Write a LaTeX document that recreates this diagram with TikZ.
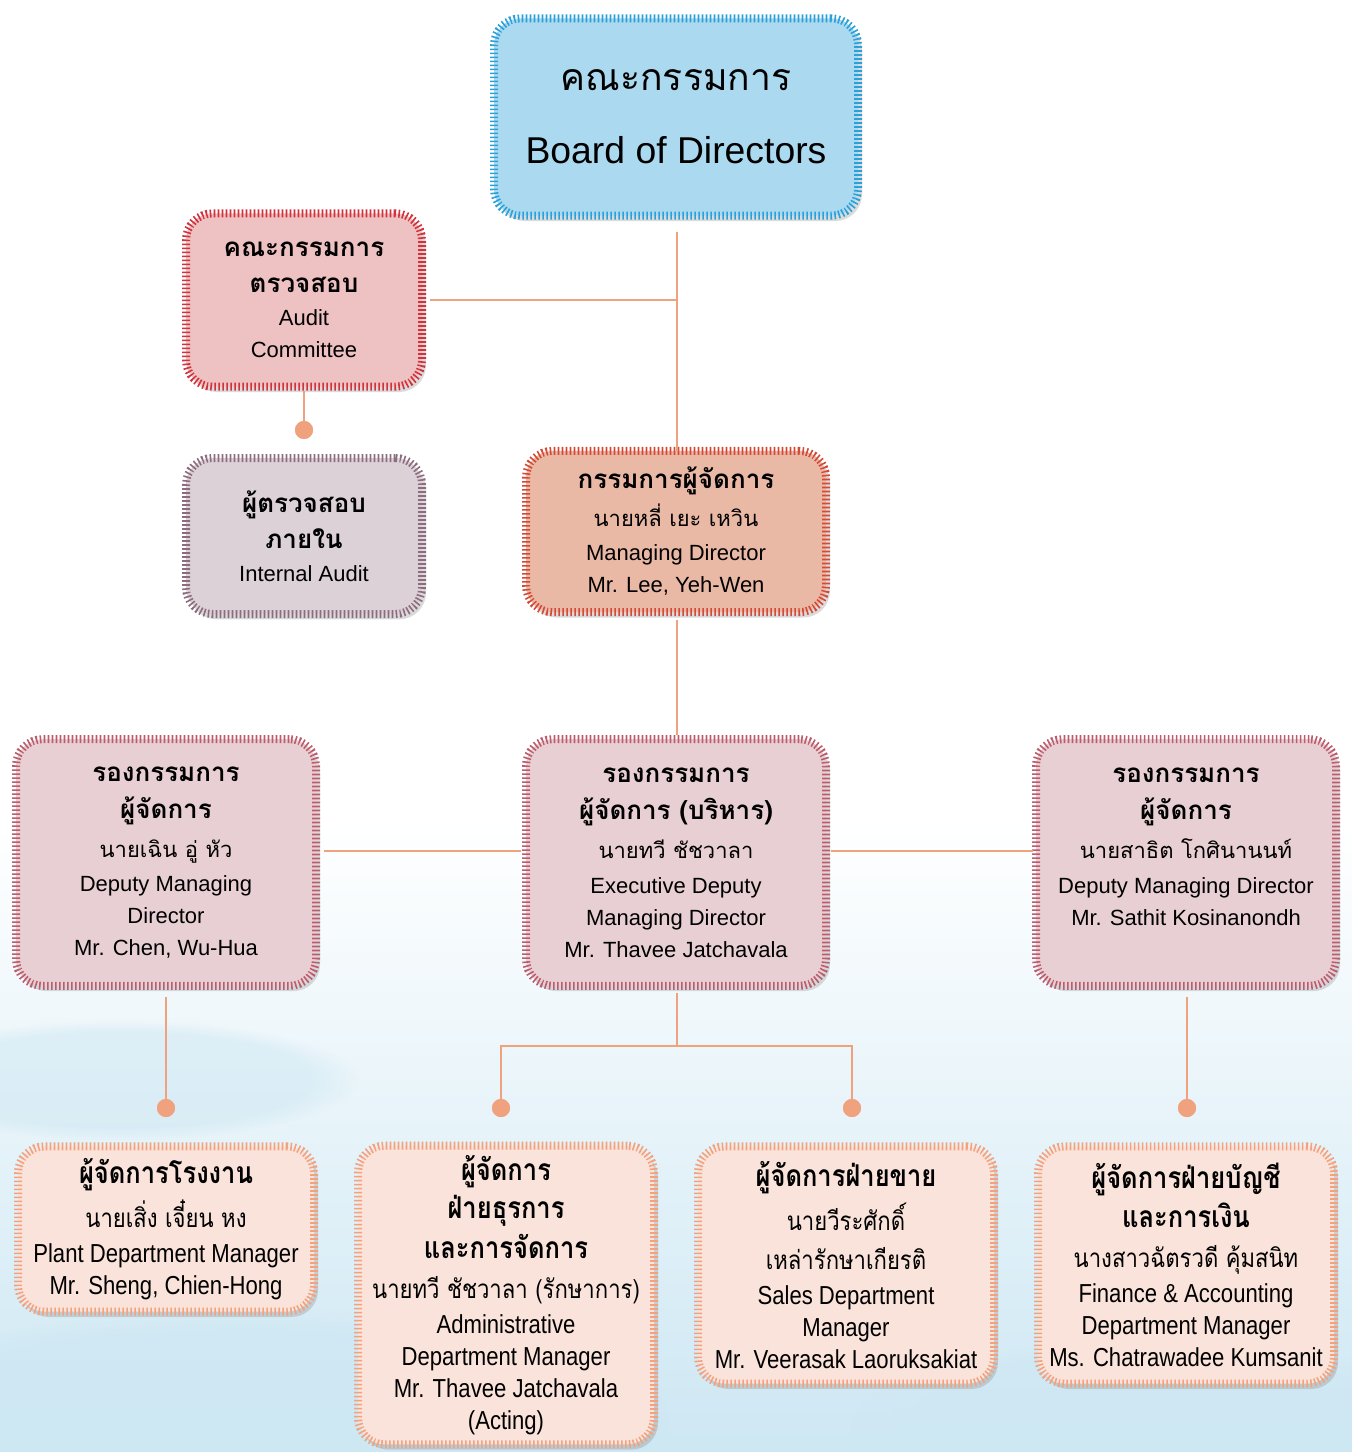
\documentclass[tikz,border=0pt]{standalone}
\usepackage{fontspec}
\setmainfont{Liberation Sans}
\newfontfamily\thaifont[Script=Thai]{Loma}
\newfontfamily\thainarrow[Script=Thai,FakeStretch=0.85]{Loma}
\newfontfamily\ennarrow[FakeStretch=0.85]{Liberation Sans}
\usetikzlibrary{shadows,fadings}
\definecolor{conncol}{HTML}{F0A27E}
\definecolor{bgblue}{HTML}{CDE7F3}
\definecolor{bdfill}{HTML}{ABD9EF}\definecolor{bdtick}{HTML}{2AA1D8}
\definecolor{acfill}{HTML}{EEC1C2}\definecolor{actick}{HTML}{D2323C}
\definecolor{iafill}{HTML}{DDD1D8}\definecolor{iatick}{HTML}{8E6C80}
\definecolor{mdfill}{HTML}{EAB9A6}\definecolor{mdtick}{HTML}{D44A36}
\definecolor{dpfill}{HTML}{E8CFD3}\definecolor{dptick}{HTML}{BC5C6C}
\definecolor{lwfill}{HTML}{F9E3DA}\definecolor{lwtick}{HTML}{F2A27E}
\newcommand{\thb}[1]{{\thaifont\bfseries\fontsize{19.5}{24}\selectfont #1}}
\newcommand{\thr}[1]{{\thaifont #1}}
\newcommand{\thbn}[1]{{\thainarrow\bfseries\fontsize{22.5}{24}\selectfont #1}}
\newcommand{\thrn}[1]{{\thainarrow #1}}
\begin{document}
\begin{tikzpicture}[x=0.75pt,y=-0.75pt,
  orgbox/.style={rectangle, rounded corners=20pt, inner sep=0pt, outer sep=0pt,
    align=center, text=black, line width=6pt, dash pattern=on 1.2pt off 1.8pt,
    drop shadow={opacity=0.28, shadow xshift=3pt, shadow yshift=-4pt}},
  boardbox/.style={orgbox, fill=bdfill, draw=bdtick, minimum width=273pt, minimum height=148pt,
    font=\fontsize{28}{55}\selectfont},
  auditbox/.style={orgbox, fill=acfill, draw=actick, minimum width=177pt, minimum height=130pt,
    font=\fontsize{16.5}{24}\selectfont},
  iabox/.style={orgbox, fill=iafill, draw=iatick, minimum width=177pt, minimum height=117pt,
    font=\fontsize{16.5}{24}\selectfont},
  mdbox/.style={orgbox, fill=mdfill, draw=mdtick, minimum width=225pt, minimum height=121pt,
    font=\fontsize{16.5}{24}\selectfont},
  depbox/.style={orgbox, fill=dpfill, draw=dptick, minimum width=225pt, minimum height=185pt,
    font=\fontsize{16.5}{24}\selectfont},
  lowbox/.style={orgbox, fill=lwfill, draw=lwtick, minimum width=222pt,
    font=\ennarrow\fontsize{19.5}{24}\selectfont},
  conn/.style={draw=conncol, line width=2pt},
  dotnode/.style={circle, fill=conncol, minimum size=13.5pt, inner sep=0pt},
  blob/.style={fill=bgblue, path fading=circle with fuzzy edge 20 percent}
]
\useasboundingbox (0,0) rectangle (1352,1452);
% background
\fill[white] (0,0) rectangle (1352,1452);
\shade[top color=white, bottom color=bgblue] (0,820) rectangle (1352,1452);
\fill[blob, opacity=0.7] (250,1420) ellipse (420 and 110);
\fill[blob, opacity=0.6] (1150,1430) ellipse (300 and 90);
\fill[blob, opacity=0.5] (120,1080) ellipse (240 and 60);

% boxes
\node[boardbox] (board) at (676,117) {\thr{คณะกรรมการ}\\Board of Directors};
\node[auditbox] (audit) at (304,300) {\thb{คณะกรรมการ}\\[3pt]\thb{ตรวจสอบ}\\[1pt]Audit\\Committee};
\node[iabox] (ia) at (304,536) {\thb{ผู้ตรวจสอบ}\\[3pt]\thb{ภายใน}\\[1pt]Internal Audit};
\node[mdbox] (md) at (676,531.5) {\thb{กรรมการผู้จัดการ}\\[4pt]\thr{นายหลี่ เยะ เหวิน}\\[2pt]Managing Director\\Mr. Lee, Yeh-Wen};
\node[depbox] (depL) at (166,862.5) {\thb{รองกรรมการ}\\[4pt]\thb{ผู้จัดการ}\\[5pt]\thr{นายเฉิน อู่ หัว}\\[2pt]Deputy Managing\\Director\\Mr. Chen, Wu-Hua};
\node[depbox] (exec) at (676,862.5) {\thb{รองกรรมการ}\\[4pt]\thb{ผู้จัดการ (บริหาร)}\\[5pt]\thr{นายทวี ชัชวาลา}\\[2pt]Executive Deputy\\Managing Director\\Mr. Thavee Jatchavala};
\node[depbox] (depR) at (1186,862.5) {\thb{รองกรรมการ}\\[4pt]\thb{ผู้จัดการ}\\[5pt]\thr{นายสาธิต โกศินานนท์}\\[2pt]Deputy Managing Director\\Mr. Sathit Kosinanondh\\\mbox{}};
\node[lowbox, minimum height=124pt] (plant) at (166,1229) {\thbn{ผู้จัดการโรงงาน}\\[6pt]\thrn{นายเสิ่ง เจี๋ยน หง}\\[2pt]Plant Department Manager\\Mr. Sheng, Chien-Hong};
\node[lowbox, minimum height=224pt] (admin) at (506,1295) {\thbn{ผู้จัดการ}\\[5pt]\thbn{ฝ่ายธุรการ}\\[5pt]\thbn{และการจัดการ}\\[6pt]\thrn{นายทวี ชัชวาลา (รักษาการ)}\\[2pt]Administrative\\Department Manager\\Mr. Thavee Jatchavala\\(Acting)};
\node[lowbox, minimum height=178pt] (sales) at (846,1265) {\thbn{ผู้จัดการฝ่ายขาย}\\[6pt]\thrn{นายวีระศักดิ์}\\[5pt]\thrn{เหล่ารักษาเกียรติ}\\[2pt]Sales Department\\Manager\\Mr. Veerasak Laoruksakiat};
\node[lowbox, minimum height=178pt] (fin) at (1186,1265) {\thbn{ผู้จัดการฝ่ายบัญชี}\\[5pt]\thbn{และการเงิน}\\[6pt]\thrn{นางสาวฉัตรวดี คุ้มสนิท}\\[2pt]Finance \& Accounting\\Department Manager\\Ms. Chatrawadee Kumsanit};

% junctions and dots
\coordinate (jtop) at (677,300);
\coordinate (hrow) at (677,851);
\coordinate (jlow) at (677,1046);
\node[dotnode] (dotIA) at (304,430) {};
\node[dotnode] (dotP) at (166,1108) {};
\node[dotnode] (dotA) at (501,1108) {};
\node[dotnode] (dotS) at (852,1108) {};
\node[dotnode] (dotF) at (1187,1108) {};

% connectors
\draw[conn, shorten <=12pt] (board.south -| jtop) -- (md.north -| jtop);
\draw[conn, shorten <=6pt] (audit.east |- jtop) -- (jtop);
\draw[conn, shorten <=3pt] (audit.south) -- (dotIA.center);
\draw[conn, shorten <=6pt, shorten >=3pt] (md.south -| jtop) -- (exec.north -| jtop);
\draw[conn, shorten <=6pt, shorten >=4pt] (depL.east |- hrow) -- (exec.west |- hrow);
\draw[conn, shorten <=4pt, shorten >=2pt] (exec.east |- hrow) -- (depR.west |- hrow);
\draw[conn, shorten <=5pt] (exec.south -| jlow) -- (jlow);
\draw[conn] (dotA.center) |- (jlow) -| (dotS.center);
\draw[conn, shorten <=8pt] (depL.south) -- (dotP.center);
\draw[conn, shorten <=8pt] (depR.south -| dotF) -- (dotF.center);
\node[dotnode] at (dotIA) {};
\node[dotnode] at (dotP) {};
\node[dotnode] at (dotA) {};
\node[dotnode] at (dotS) {};
\node[dotnode] at (dotF) {};
\end{tikzpicture}
\end{document}
